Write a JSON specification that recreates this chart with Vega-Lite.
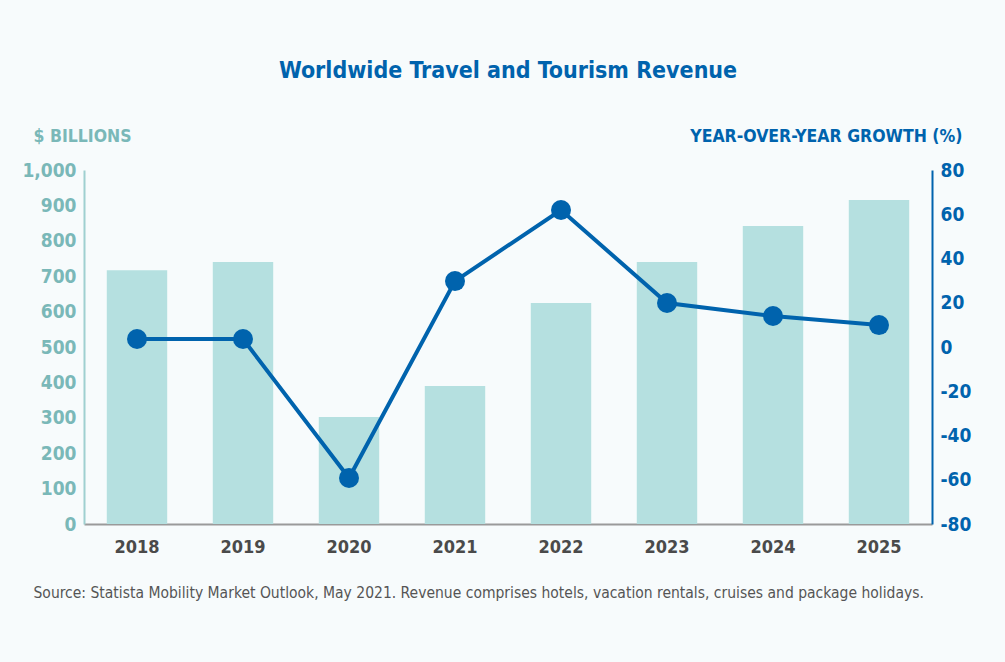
{
  "$schema": "https://vega.github.io/schema/vega-lite/v6.json",
  "width": 848,
  "height": 354,
  "autosize": {"type": "none"},
  "padding": {"left": 84, "top": 170, "right": 73, "bottom": 138},
  "background": "#f7fbfc",
  "config": {
    "font": "Liberation Sans Narrow, DejaVu Sans Condensed, Roboto",
    "view": {"stroke": null},
    "axis": {"grid": false, "ticks": false}
  },
  "title": {
    "text": "Worldwide Travel and Tourism Revenue",
    "fontSize": 23,
    "fontWeight": "bold",
    "color": "#0063ad",
    "anchor": "middle",
    "offset": 44
  },
  "data": {
    "values": [
      {"year": "2018", "revenue": 717, "growth": 3.6},
      {"year": "2019", "revenue": 740, "growth": 3.6},
      {"year": "2020", "revenue": 302, "growth": -59.2},
      {"year": "2021", "revenue": 390, "growth": 29.8},
      {"year": "2022", "revenue": 624, "growth": 61.9},
      {"year": "2023", "revenue": 740, "growth": 19.9},
      {"year": "2024", "revenue": 842, "growth": 14},
      {"year": "2025", "revenue": 915, "growth": 9.9}
    ]
  },
  "encoding": {
    "x": {
      "field": "year",
      "type": "ordinal",
      "scale": {"paddingInner": 0.43, "paddingOuter": 0.215},
      "axis": {
        "title": "Source: Statista Mobility Market Outlook, May 2021. Revenue comprises hotels, vacation rentals, cruises and package holidays.",
        "titleX": -51,
        "titleY": 68,
        "titleAlign": "left",
        "titleBaseline": "middle",
        "titleFontSize": 15.5,
        "titleFontWeight": "normal",
        "titleColor": "#555555",
        "labelAngle": 0,
        "labelFontSize": 18,
        "labelFontWeight": "bold",
        "labelColor": "#4a4a4a",
        "labelPadding": 14,
        "domainColor": "#9a9a9a",
        "domainWidth": 2
      }
    }
  },
  "layer": [
    {
      "mark": {"type": "bar", "color": "#b5e0e0"},
      "encoding": {
        "y": {
          "field": "revenue",
          "type": "quantitative",
          "scale": {"domain": [0, 1000]},
          "axis": {
            "orient": "left",
            "values": [0, 100, 200, 300, 400, 500, 600, 700, 800, 900, 1000],
            "format": ",.0f",
            "title": "$ BILLIONS",
            "titleAngle": 0,
            "titleX": -51,
            "titleY": -34,
            "titleAlign": "left",
            "titleBaseline": "middle",
            "titleFontSize": 17.5,
            "titleFontWeight": "bold",
            "titleColor": "#7ab8b8",
            "labelFontSize": 19,
            "labelFontWeight": "bold",
            "labelColor": "#7ab8b8",
            "labelPadding": 8,
            "domainColor": "#9fd0d0",
            "domainWidth": 2
          }
        }
      }
    },
    {
      "mark": {"type": "line", "color": "#0063ad", "strokeWidth": 4},
      "encoding": {
        "y": {
          "field": "growth",
          "type": "quantitative",
          "scale": {"domain": [-80, 80]},
          "axis": {
            "orient": "right",
            "values": [-80, -60, -40, -20, 0, 20, 40, 60, 80],
            "labelExpr": "datum.value < 0 ? '-' + abs(datum.value) : '' + datum.value",
            "title": "YEAR-OVER-YEAR GROWTH (%)",
            "titleAngle": 0,
            "titleX": 30,
            "titleY": -34,
            "titleAlign": "right",
            "titleBaseline": "middle",
            "titleFontSize": 17.5,
            "titleFontWeight": "bold",
            "titleColor": "#0063ad",
            "labelFontSize": 19,
            "labelFontWeight": "bold",
            "labelColor": "#0063ad",
            "labelPadding": 8,
            "domainColor": "#0063ad",
            "domainWidth": 2
          }
        }
      }
    },
    {
      "mark": {"type": "point", "filled": true, "opacity": 1, "color": "#0063ad", "size": 400},
      "encoding": {
        "y": {"field": "growth", "type": "quantitative", "scale": {"domain": [-80, 80]}, "axis": null}
      }
    }
  ],
  "resolve": {"scale": {"y": "independent"}}
}
